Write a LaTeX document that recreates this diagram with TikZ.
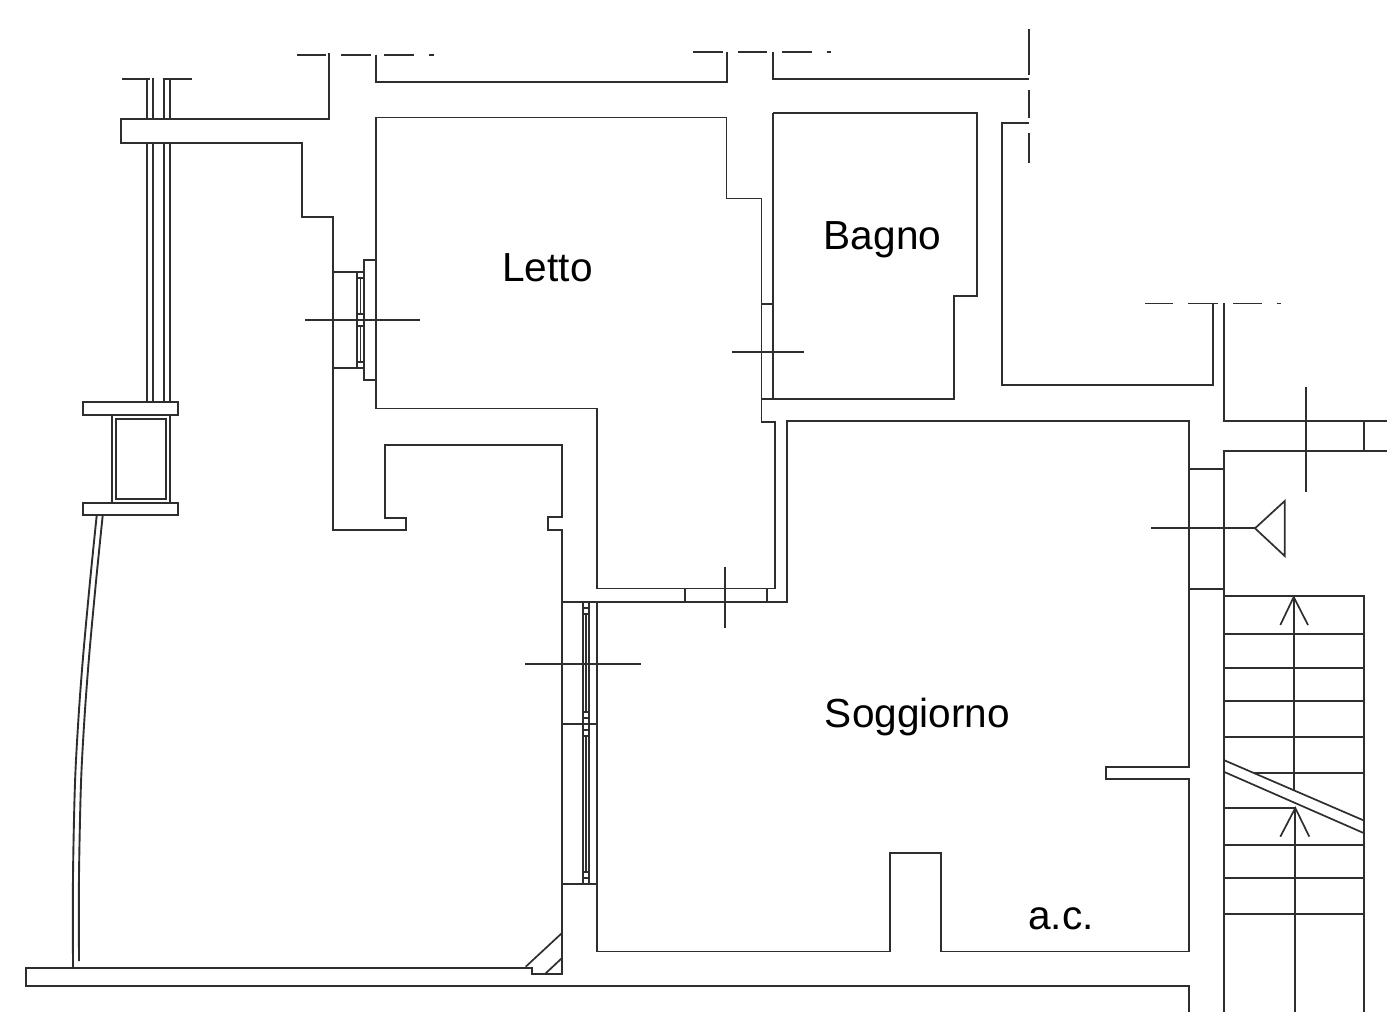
\documentclass[tikz,border=0pt]{standalone}
\usepackage{fontspec}
\setmainfont{Liberation Sans}
\usetikzlibrary{positioning}
\tikzset{
  wall/.style={line width=1.9pt,color=black!82,line cap=butt},
  thin wall/.style={line width=1.7pt,color=black!82},
  room label/.style={font=\fontsize{40.6}{48}\selectfont,inner sep=0pt,text=black},
}
\begin{document}
\begin{tikzpicture}[x=1pt,y=-1pt]
  \useasboundingbox (0,0) rectangle (1387,1012);
  \draw[wall] (376,117.5) -- (726.5,117.5) -- (726.5,198.5) -- (761.5,198.5) -- (761.5,422) -- (775,422) -- (775,588.5) -- (597,588.5) -- (597,408.5) -- (376,408.5) -- cycle;
  \draw[wall] (773.3,113.3) -- (977.3,113.3) -- (977.3,296) -- (953.7,296) -- (953.7,399.3) -- (761.5,399.3);
  \draw[wall] (773.3,113.3) -- (773.3,399.3);
  \draw[wall] (562,602) -- (787,602) -- (787,421) -- (1189,421) -- (1189,766.7) -- (1106,766.7) -- (1106,779.3) -- (1189,779.3) -- (1189,951.5) -- (941,951.5) -- (941,853) -- (890,853) -- (890,951.5) -- (597,951.5) -- (597,602);
  \draw[wall] (329,53) -- (329,119) -- (120.7,119) -- (120.7,143) -- (302.3,143) -- (302.3,216.7) -- (332.7,216.7) -- (332.7,530) -- (406,530) -- (406,518) -- (385,518) -- (385,444.7) -- (562,444.7) -- (562,517.3) -- (548,517.3) -- (548,530) -- (562,530) -- (562,974.3) -- (531.7,974.3) -- (531.7,967.7) -- (26,967.7) -- (26,986) -- (1189,986) -- (1189,1012);
  \draw[wall] (376,54.7) -- (376,81.7) -- (727,81.7) -- (727,51.7);
  \draw[wall] (773.3,51.7) -- (773.3,78.7) -- (1029,78.7);
  \draw[wall] (1029,123.3) -- (1001.7,123.3) -- (1001.7,384.7) -- (1213,384.7) -- (1213,303);
  \draw[wall] (1223.7,303) -- (1223.7,420.7) -- (1387,420.7);
  \draw[wall] (1387,450.7) -- (1223.7,450.7) -- (1223.7,1012);
  \draw[wall] (1364.3,420.7) -- (1364.3,450.7);
  \draw[wall] (1189,468.7) -- (1223.7,468.7);
  \draw[wall] (1189,589) -- (1223.7,589);
  \draw[wall] (684.7,588.5) -- (684.7,602);
  \draw[wall] (767.3,588.5) -- (767.3,602);
  \draw[wall] (761.5,303.7) -- (773.3,303.7);

  \draw[wall] (122,78.7) -- (150,78.7);
  \draw[wall] (164.3,78.7) -- (192,78.7);
  \foreach \x in {146.7,152.7,164.3,170.3} {
    \draw[wall] (\x,78) -- (\x,119);
    \draw[wall] (\x,143) -- (\x,402.3);
  }
  \draw[wall] (83.3,402.3) rectangle (178.3,415);
  \draw[wall] (83.3,503) rectangle (178.3,515.3);
  \draw[wall] (111.7,415) -- (111.7,503);
  \draw[wall] (170.3,415) -- (170.3,503);
  \draw[wall] (116.3,419) rectangle (166.3,499);
  \draw[wall] plot[smooth] coordinates {(96.7,515.5) (90,581.6) (83.3,654) (78.7,714.7) (75,783) (73,876) (73,968)};
  \draw[wall] plot[smooth] coordinates {(102.7,515.5) (96,581.6) (89.3,654) (84.7,714.7) (81,783) (79,876) (79,961)};

  \draw[wall] (357.3,272) -- (332.7,272);
  \draw[wall] (357.3,367.7) -- (332.7,367.7);
  \draw[wall] (376,260) -- (363.7,260) -- (363.7,380) -- (376,380);
  \draw[wall] (357.3,272) -- (357.3,367.7);
  \draw[wall] (360.5,278) -- (360.5,314);
  \draw[wall] (360.5,326) -- (360.5,362);
  \foreach \y in {272,278,314,326,362,367.7} {
    \draw[thin wall] (357.3,\y) -- (363.7,\y);
  }

  \draw[thin wall] (562,723.7) -- (597,723.7);
  \draw[thin wall] (562,884) -- (597,884);
  \draw[thin wall] (582.7,602) -- (582.7,884);
  \draw[thin wall] (589,602) -- (589,884);
  \draw[thin wall] (585.8,614.3) -- (585.8,711.7);
  \draw[thin wall] (585.8,736) -- (585.8,871.7);
  \foreach \y in {608.3,614.3,711.7,717.7,730,736,871.7,877.7} {
    \draw[thin wall] (582.7,\y) -- (589,\y);
  }
  \draw[thin wall] (525.7,966.7) -- (562,933);
  \draw[thin wall] (545,974) -- (562,958);

  \foreach \x/\y/\w in {297/54.7/29,341/54.7/29.7,384/54.7/30,429/54.7/5,693/51.7/30,738/51.7/29,781.7/51.7/30,826.7/51.7/4,1145/303.5/27.7,1188/303.5/30,1233/303.5/28.7,1276.7/303.5/4.3} {
    \draw[thin wall] (\x,\y) -- ++(\w,0);
  }
  \draw[thin wall] (1028.7,29) -- (1028.7,75);
  \draw[thin wall] (1028.7,90) -- (1028.7,118);
  \draw[thin wall] (1028.7,133) -- (1028.7,163);

  \draw[thin wall] (305,320) -- (420,320);
  \draw[thin wall] (732.3,351.7) -- (804,351.7);
  \draw[thin wall] (725.3,567) -- (725.3,628);
  \draw[thin wall] (525,663.7) -- (640.7,663.7);
  \draw[thin wall] (1306,387.3) -- (1306,491.7);
  \draw[thin wall] (1151,528.3) -- (1255,528.3);
  \draw[thin wall] (1255,528.3) -- (1284.7,501) -- (1284.7,556) -- cycle;

  \draw[wall] (1223.7,596) -- (1364.3,596) -- (1364.3,1012);
  \foreach \y in {633.7,668,701,737,845,878,914} {
    \draw[wall] (1223.7,\y) -- (1364.3,\y);
  }
  \draw[wall] (1254,773) -- (1364.3,773);
  \draw[wall] (1223.7,807.7) -- (1295,807.7);
  \draw[thin wall] (1223.7,760) -- (1364.3,820.7);
  \draw[thin wall] (1223.7,771.7) -- (1364.3,833.3);
  \draw[wall] (1293.7,596) -- (1293.7,790);
  \draw[thin wall] (1280.3,625) -- (1293.7,597) -- (1308,625);
  \draw[wall] (1295.3,808) -- (1295.3,1012);
  \draw[thin wall] (1280.3,836.7) -- (1295.3,808) -- (1309.3,836.7);

  \node[room label] (letto) at (547.5,268) {Letto};
  \node[room label] (bagno) at (882.5,240) {Bagno};
  \node[room label] (soggiorno) at (917.5,717) {Soggiorno};
  \node[room label] (ac) at (1061,919) {a.c.};
\end{tikzpicture}
\end{document}
